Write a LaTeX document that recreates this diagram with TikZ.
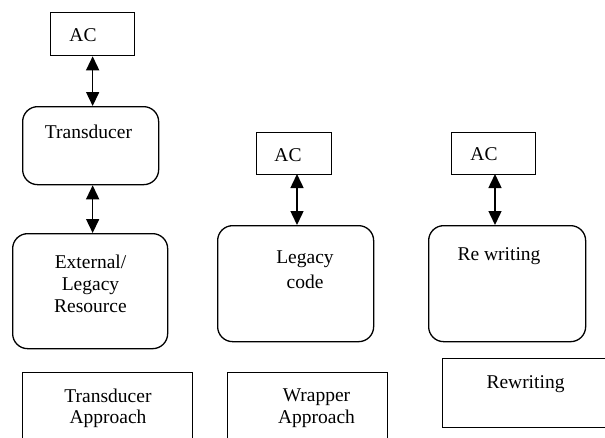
\documentclass[tikz,border=0pt]{standalone}
\usepackage{fontspec}
\setmainfont{Liberation Serif}
\usetikzlibrary{arrows.meta}
\tikzset{
  box/.style={draw, line width=1.3pt, rectangle, inner sep=0pt, anchor=north west},
  rbox/.style={box, rounded corners=15pt},
  lbl/.style={anchor=base, inner sep=0pt, font=\fontsize{19.5}{22}\selectfont},
  link/.style={line width=1.5pt, {Triangle[width=13pt,length=14pt]}-{Triangle[width=13pt,length=14pt]}}
}
\begin{document}
\begin{tikzpicture}[x=1pt,y=-1pt]
\path[use as bounding box, clip] (0,0) rectangle (605,437);
\fill[white] (0,0) rectangle (605,437);
% left column
\node[box, minimum width=84pt, minimum height=43pt] (ac1) at (50,12) {};
\node[lbl] (ac1t) at (83,41.5) {AC};
\node[rbox, minimum width=136pt, minimum height=78pt] (tr) at (22,106) {};
\node[lbl] (trt) at (88.5,138) {Transducer};
\node[rbox, minimum width=155pt, minimum height=115pt] (ext) at (12,233) {};
\node[lbl] (ext1) at (90.5,268) {External/};
\node[lbl] (ext2) at (90.5,290) {Legacy};
\node[lbl] (ext3) at (90.5,312) {Resource};
\node[box, minimum width=170pt, minimum height=90pt] (tap) at (22,372) {};
\node[lbl] (tap1) at (108,402) {Transducer};
\node[lbl] (tap2) at (108,423) {Approach};
\draw[link] (ac1.south) -- (ac1.south |- tr.north);
\draw[link] (ac1.south |- tr.south) -- (ac1.south |- ext.north);
% middle column
\node[box, minimum width=75pt, minimum height=42pt] (ac2) at (256,132) {};
\node[lbl] (ac2t) at (288,161) {AC};
\node[rbox, minimum width=156pt, minimum height=116pt] (lc) at (217,225) {};
\node[lbl] (lc1) at (305,263) {Legacy};
\node[lbl] (lc2) at (305,288) {code};
\node[box, minimum width=160pt, minimum height=90pt] (wap) at (227,372) {};
\node[lbl] (wap1) at (316.5,401.5) {Wrapper};
\node[lbl] (wap2) at (316.5,423) {Approach};
\coordinate (a2) at (297,174);
\draw[link] (a2) -- (a2 |- lc.north);
% right column
\node[box, minimum width=84pt, minimum height=42pt] (ac3) at (451,132) {};
\node[lbl] (ac3t) at (484,160.5) {AC};
\node[rbox, minimum width=157pt, minimum height=116pt] (rw) at (428,225) {};
\node[lbl] (rwt) at (499,260) {Re writing};
\node[box, minimum width=180pt, minimum height=69pt] (rwb) at (442,358) {};
\node[lbl] (rwbt) at (525.5,388) {Rewriting};
\coordinate (a3) at (495,174);
\draw[link] (a3) -- (a3 |- rw.north);
\end{tikzpicture}
\end{document}
